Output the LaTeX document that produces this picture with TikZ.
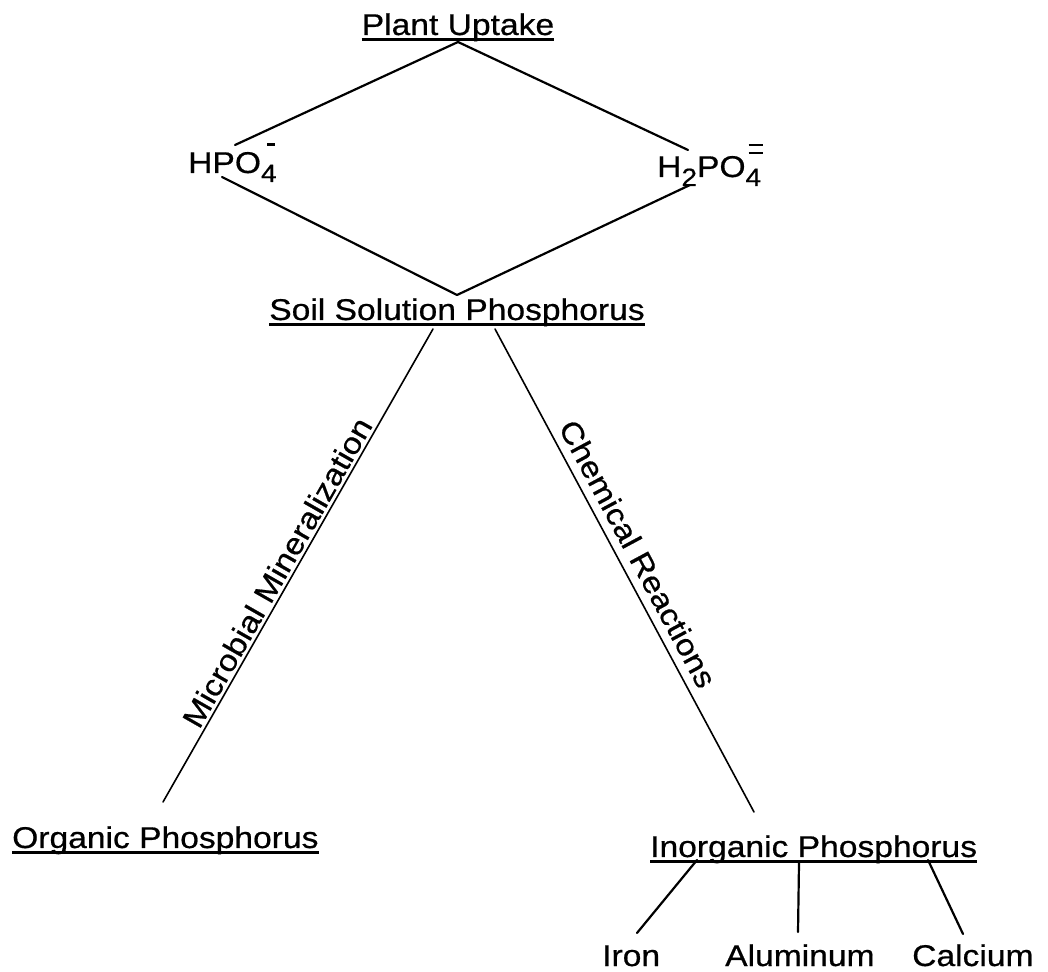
\documentclass[tikz,border=0pt]{standalone}
\usepackage{fontspec}
\setmainfont{Liberation Sans}[FakeStretch=1.12, FakeBold=0.6]
\newcommand{\subdig}[1]{\raisebox{-9pt}{\fontsize{25}{25}\selectfont #1}}
\newcommand{\minusbar}{\rlap{\hspace*{6pt}\rule[27pt]{8pt}{2.5pt}}}
\newcommand{\eqbar}{\rlap{\hspace*{3pt}\rule[31pt]{14pt}{2.2pt}}\rlap{\hspace*{3pt}\rule[23pt]{14pt}{2.2pt}}}
\begin{document}
\begin{tikzpicture}[x=1pt,y=1pt,
  every node/.style={inner sep=0pt, font=\fontsize{30}{36}\selectfont},
  link/.style={line width=2.2pt, line cap=round},
  longlink/.style={line width=1.6pt, line cap=round},
  uline/.style={line width=2.6pt}]
\useasboundingbox (0,0) rectangle (1048,971);

% titles
\node[anchor=base] (pu) at (458,936) {Plant Uptake};
\node[anchor=base west] (hpo) at (188,798) {HPO\minusbar\subdig{4}};
\node[anchor=base west] (hhpo) at (657,794) {H\subdig{2}PO\eqbar\subdig{4}};
\node[anchor=base] (ssp) at (457,651) {Soil Solution Phosphorus};
\node[anchor=base west] (op) at (12,123) {Organic Phosphorus};
\node[anchor=base west] (ip) at (650,114) {Inorganic Phosphorus};
\node[anchor=base west] (fe) at (602,5) {Iron};
\node[anchor=base west] (al) at (725,5) {Aluminum};
\node[anchor=base west] (ca) at (912,5) {Calcium};

% underlines
\foreach \n in {pu,ssp,op,ip}
  \draw[uline] ([yshift=-4.5pt]\n.base west) -- ([yshift=-4.5pt]\n.base east);

% connector end points
\coordinate (apexTop) at (458,929);
\coordinate (hpoTop) at (235,826);
\coordinate (hpoBot) at (222,794);
\coordinate (hhTop) at (688,821);
\coordinate (hhBot) at (690,786);
\coordinate (apexBot) at (457,676);
\coordinate (soilL) at (433,642);
\coordinate (soilR) at (495,642);
\coordinate (orgEnd) at (163,169);
\coordinate (inoEnd) at (754,159);
\coordinate (feTop) at (697,111);
\coordinate (feBot) at (637,38);
\coordinate (alTop) at (799,108);
\coordinate (alBot) at (798,39);
\coordinate (caTop) at (928,111);
\coordinate (caBot) at (963,37);

% diamond
\draw[link] (apexTop) -- (hpoTop);
\draw[link] (apexTop) -- (hhTop);
\draw[link] (hpoBot) -- (apexBot);
\draw[link] (hhBot) -- (apexBot);

% long branches
\draw[longlink] (orgEnd) -- node[sloped, above=3pt, pos=0.47] (mm) {Microbial Mineralization} (soilL);
\draw[longlink] (soilR) -- node[sloped, above=8pt, pos=0.485] (cr) {Chemical Reactions} (inoEnd);

% inorganic sub-branches
\draw[link] (feTop) -- (feBot);
\draw[link] (alTop) -- (alBot);
\draw[link] (caTop) -- (caBot);
\end{tikzpicture}
\end{document}
